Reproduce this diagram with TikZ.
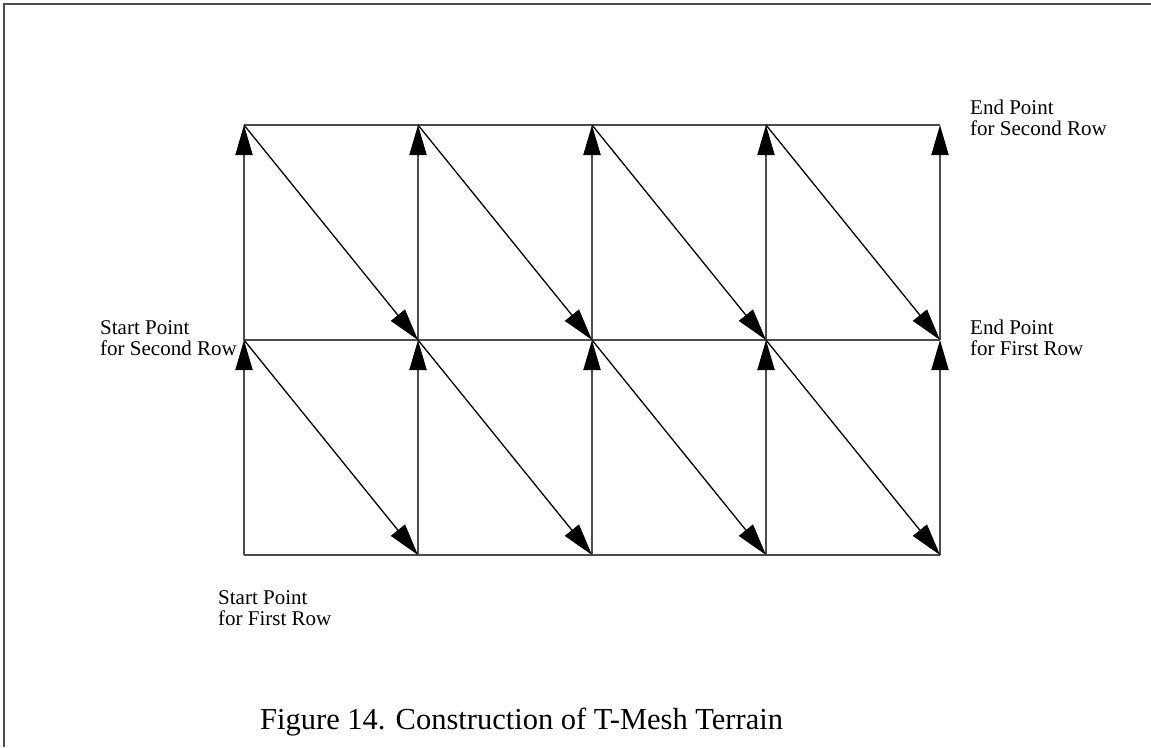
\documentclass[tikz,border=0pt]{standalone}
\usepackage{fontspec}
\setmainfont{Liberation Serif}
\usetikzlibrary{arrows.meta}
\begin{document}
\begin{tikzpicture}[x=1pt,y=-1pt,
  gridline/.style={draw=black!70,line width=2pt},
  uparrow/.style={draw=black!70,line width=2pt,-{Triangle[length=30pt,width=17pt,fill=black,color=black]}},
  diagarrow/.style={draw=black,line width=1.3pt,-{Triangle[length=32pt,width=18pt]}},
  lbl/.style={align=left,anchor=west,inner sep=0pt,font=\fontsize{21}{21}\selectfont},
  captext/.style={anchor=west,inner sep=0pt,font=\fontsize{30.5}{32}\selectfont}]
\useasboundingbox (0,0) rectangle (1151,747);
\fill[white] (0,0) rectangle (1151,747);
% frame
\coordinate (fTL) at (4,4);
\coordinate (fTR) at (1151,4);
\coordinate (fBL) at (4,747);
\draw[black!70,line width=2pt] (fTR) -- (fTL) -- (fBL);
% grid coordinates
\foreach \i/\x in {0/244,1/418,2/592,3/766,4/940}{
  \foreach \j/\y in {0/125,1/340,2/555}{
    \coordinate (p\i\j) at (\x,\y);
  }
}
% horizontal lines
\foreach \j in {0,1,2}{\draw[gridline] (p0\j) -- (p4\j);}
% vertical arrows
\foreach \i in {0,1,2,3,4}{
  \draw[uparrow] (p\i2) -- (p\i1);
  \draw[uparrow] (p\i1) -- (p\i0);
}
% diagonal arrows
\foreach \i/\n in {0/1,1/2,2/3,3/4}{
  \draw[diagarrow] (p\i0) -- (p\n1);
  \draw[diagarrow] (p\i1) -- (p\n2);
}
% labels
\node[lbl] (sp2) at (100,338) {Start Point\\for Second Row};
\node[lbl] (ep1) at (970,338) {End Point\\for First Row};
\node[lbl] (ep2) at (970,118) {End Point\\for Second Row};
\node[lbl] (sp1) at (218,608) {Start Point\\for First Row};
\node[captext] (caption) at (260,722) {Figure 14. Construction of T-Mesh Terrain};
\end{tikzpicture}
\end{document}
